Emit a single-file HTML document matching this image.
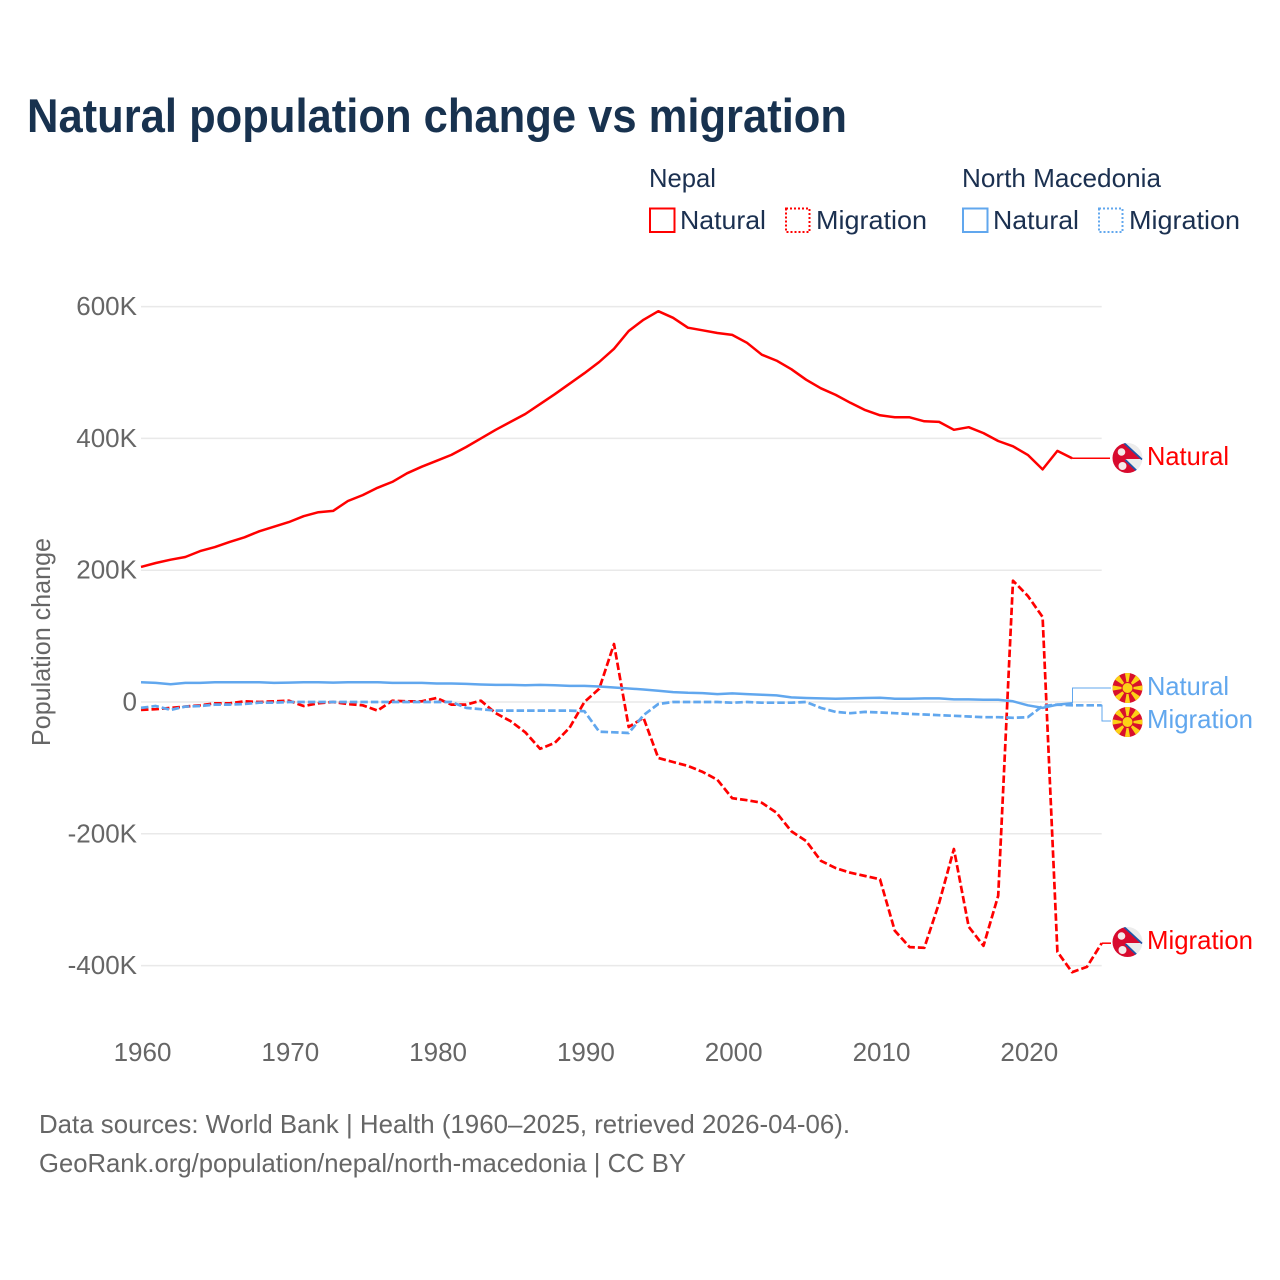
<!DOCTYPE html>
<html lang="en">
<head>
<meta charset="utf-8">
<title>Natural population change vs migration</title>
<style>
html,body{margin:0;padding:0;background:#fff;}
svg{display:block;font-family:"Liberation Sans",sans-serif;}
</style>
</head>
<body>
<svg id="chart" xmlns="http://www.w3.org/2000/svg" width="1280" height="1280" viewBox="0 0 1280 1280">
  <rect x="0" y="0" width="1280" height="1280" fill="#ffffff"/>
  <text x="27" y="132" font-size="47" font-weight="700" fill="#18324f" textLength="820" lengthAdjust="spacingAndGlyphs">Natural population change vs migration</text>

  <g font-size="26" fill="#1b3050">
    <text x="649" y="187" textLength="67" lengthAdjust="spacingAndGlyphs">Nepal</text>
    <text x="962" y="187" textLength="199" lengthAdjust="spacingAndGlyphs">North Macedonia</text>
    <rect x="650" y="208.500" width="24.500" height="23.500" fill="none" stroke="#ff0000" stroke-width="2"/>
    <text x="680" y="229" textLength="86" lengthAdjust="spacingAndGlyphs">Natural</text>
    <rect x="786" y="208.500" width="23.500" height="23.500" fill="none" stroke="#ff0000" stroke-width="2" stroke-dasharray="2,2"/>
    <text x="816" y="229" textLength="111" lengthAdjust="spacingAndGlyphs">Migration</text>
    <rect x="963" y="208.500" width="24.500" height="23.500" fill="none" stroke="#61a7ee" stroke-width="2"/>
    <text x="993" y="229" textLength="86" lengthAdjust="spacingAndGlyphs">Natural</text>
    <rect x="1099" y="208.500" width="23.500" height="23.500" fill="none" stroke="#61a7ee" stroke-width="2" stroke-dasharray="2,2"/>
    <text x="1129" y="229" textLength="111" lengthAdjust="spacingAndGlyphs">Migration</text>
  </g>

  <g id="grid"></g>
  <g id="yticks" font-size="26" fill="#666666" text-anchor="end"></g>
  <g id="xticks" font-size="26" fill="#666666" text-anchor="middle"></g>
  <text transform="translate(50,642) rotate(-90)" font-size="26" fill="#666666" text-anchor="middle" textLength="208" lengthAdjust="spacingAndGlyphs">Population change</text>
  <g id="series"></g>

  <defs>
    <clipPath id="flag-clip"><circle cx="0" cy="0" r="15"/></clipPath>
    <g id="flag-np">
      <g clip-path="url(#flag-clip)">
        <rect x="-15" y="-15" width="30" height="30" fill="#ececec"/>
        <path d="M-17,-17 L-4.500,-17 L14,1 L-2,1 L11,15 L11,17 L-17,17 Z" fill="#d80a2e"/>
        <path d="M-4.500,-16 L14.500,1.500" fill="none" stroke="#1f56a8" stroke-width="1.800"/>
        <path d="M-2,2 L12,15.500" fill="none" stroke="#1f56a8" stroke-width="1.800"/>
        <circle cx="-6" cy="-6" r="3.800" fill="#f4eaea"/>
        <circle cx="-5" cy="8" r="4" fill="#f4eaea"/>
      </g>
    </g>
    <g id="flag-mk">
      <g clip-path="url(#flag-clip)">
        <rect x="-15" y="-15" width="30" height="30" fill="#d8102c"/>
        <path d="M-2.800,-16 L2.800,-16 L0,0 Z M-2.800,16 L2.800,16 L0,0 Z M-16,-2.800 L-16,2.800 L0,0 Z M16,-2.800 L16,2.800 L0,0 Z M-13.500,-9 L-9,-13.500 L0,0 Z M13.500,-9 L9,-13.500 L0,0 Z M-13.500,9 L-9,13.500 L0,0 Z M13.500,9 L9,13.500 L0,0 Z" fill="#fcd116"/>
        <circle cx="0" cy="0" r="6" fill="#d8102c"/>
        <circle cx="0" cy="0" r="5" fill="#fcd116"/>
      </g>
    </g>
  </defs>

  <use href="#flag-np" x="1127.500" y="458"/>
  <text x="1147" y="465" font-size="26" fill="#ff0000" textLength="82" lengthAdjust="spacingAndGlyphs">Natural</text>
  <use href="#flag-mk" x="1127.500" y="688"/>
  <text x="1147" y="695" font-size="26" fill="#61a7ee" textLength="82" lengthAdjust="spacingAndGlyphs">Natural</text>
  <use href="#flag-mk" x="1127.500" y="722"/>
  <text x="1147" y="728" font-size="26" fill="#61a7ee" textLength="106" lengthAdjust="spacingAndGlyphs">Migration</text>
  <use href="#flag-np" x="1127.500" y="942"/>
  <text x="1147" y="949" font-size="26" fill="#ff0000" textLength="106" lengthAdjust="spacingAndGlyphs">Migration</text>

  <text x="39" y="1133" font-size="26" fill="#666666" textLength="811" lengthAdjust="spacingAndGlyphs">Data sources: World Bank | Health (1960–2025, retrieved 2026-04-06).</text>
  <text x="39" y="1172" font-size="26" fill="#666666" textLength="647" lengthAdjust="spacingAndGlyphs">GeoRank.org/population/nepal/north-macedonia | CC BY</text>
</svg>
<script>
const xTickYears = [1960, 1970, 1980, 1990, 2000, 2010, 2020];
const yTickValues = [600, 400, 200, 0, -200, -400];
const yTickLabels = ['600K', '400K', '200K', '0', '-200K', '-400K'];
const startYear = 1960;
const nepalNatural = [
  205,211,216,220,229,235,243,250,259,266,
  273,282,288,290,305,314,325,334,347,357,
  366,375,387,400,413,425,437,452,467,483,
  499,516,536,563,580,593,583,568,564,560,
  557,545,527,518,505,489,476,466,454,443,
  435,432,432,426,425,413,417,408,396,388,
  375,353,381,370];
const nepalMigration = [
  -12,-11,-9,-7,-5,-2,-2,1,0,1,
  2,-6,-2,0,-3,-5,-13,2,1,1,
  6,-4,-4,2,-17,-29,-46,-71,-62,-39,
  0,20,88,-38,-24,-85,-91,-97,-106,-118,
  -146,-149,-153,-168,-196,-211,-241,-252,-259,-264,
  -269,-347,-372,-373,-305,-223,-341,-370,-294,184,
  161,129,-379,-410,-402,-366];
const macedoniaNatural = [
  30,29,27,29,29,30,30,30,30,29,
  29.5,30,30,29.5,30,30,30,29,29,29,
  28,28,27.5,26.5,26,26,25.5,26,25.5,24.5,
  24.5,23.5,22,20.5,19,17,15,14,13.5,12,
  13,12,11,10,7,6,5.5,5,5.5,6,
  6.500,5,5,5.500,5.500,4,4,3.500,3.500,1,
  -5,-9,-4,-2];
const macedoniaMigration = [
  -9,-6,-12,-7,-6,-4,-4,-3,-1,-1,
  0,0,0,0,0,0,0,0,0,0,
  0,0,-9,-11,-13,-13,-13,-13,-13,-13,
  -14,-45,-46,-47,-20,-3,0,0,0,0,
  -1,0,-1,-1,-1,0,-9,-15,-17,-15,
  -16,-17,-18,-19,-20,-21,-22,-23,-23,-24,
  -23,-6,-4,-5,-5,-5];

const NS = 'http://www.w3.org/2000/svg';
function xScale(year) { return 141 + (year - 1960) * 14.78; }
function yScale(value) { return 702 - value * 0.659; }
function make(tag, attrs, parent) {
  const el = document.createElementNS(NS, tag);
  for (const k in attrs) el.setAttribute(k, attrs[k]);
  parent.appendChild(el);
  return el;
}
const grid = document.getElementById('grid');
const yticks = document.getElementById('yticks');
const xticks = document.getElementById('xticks');
const seriesGroup = document.getElementById('series');

yTickValues.forEach(function (v, i) {
  const line = make('line', {x1: xScale(1960), x2: xScale(2025), y1: yScale(v), y2: yScale(v), stroke: '#e9e9e9', 'stroke-width': 1.500}, grid);
  
  
  const t = make('text', {x: 137, y: yScale(v) + 8.500}, yticks);
  
  
  t.textContent = yTickLabels[i];
});
xTickYears.forEach(function (year) {
  const t = make('text', {x: xScale(year) + 1.5, y: 1061}, xticks);
  
  
  t.textContent = year;
});

function seriesPoints(values) {
  return values.map(function (v, i) {
    return xScale(startYear + i).toFixed(1) + ',' + yScale(v).toFixed(1);
  }).join(' ');
}
function lastPoint(values) {
  const i = values.length - 1;
  return [xScale(startYear + i), yScale(values[i])];
}
function drawSeries(values, color, dashed, name) {
  const p = make('polyline', {points: seriesPoints(values), fill: 'none', stroke: color, 'stroke-width': dashed ? 2.700 : 2.500, 'stroke-linejoin': 'round'}, seriesGroup);
  if (dashed) p.setAttribute('stroke-dasharray', '7.500,3');
  
  
}
function drawConnector(values, color, midX, endX, endY, width, name) {
  const e = lastPoint(values);
  const pts = e[0].toFixed(1) + ',' + e[1].toFixed(1) + ' ' + midX + ',' + e[1].toFixed(1) + ' ' + midX + ',' + endY + ' ' + endX + ',' + endY;
  const c = make('polyline', {points: pts, fill: 'none', stroke: color, 'stroke-width': width}, seriesGroup);
  
  
}
drawSeries(nepalNatural, '#ff0000', false, 'line-nepal-natural');
drawSeries(nepalMigration, '#ff0000', true, 'line-nepal-migration');
drawSeries(macedoniaNatural, '#61a7ee', false, 'line-macedonia-natural');
drawSeries(macedoniaMigration, '#61a7ee', true, 'line-macedonia-migration');
drawConnector(nepalNatural, '#ff0000', 1090, 1110, lastPoint(nepalNatural)[1].toFixed(1), 1.500, 'connector-nepal-natural');
drawConnector(macedoniaNatural, '#61a7ee', 1072.500, 1111, 688, 1, 'connector-macedonia-natural');
drawConnector(macedoniaMigration, '#61a7ee', 1102, 1111, 721, 1, 'connector-macedonia-migration');
drawConnector(nepalMigration, '#ff0000', 1106, 1111, lastPoint(nepalMigration)[1].toFixed(1), 1.500, 'connector-nepal-migration');
</script>
</body>
</html>
